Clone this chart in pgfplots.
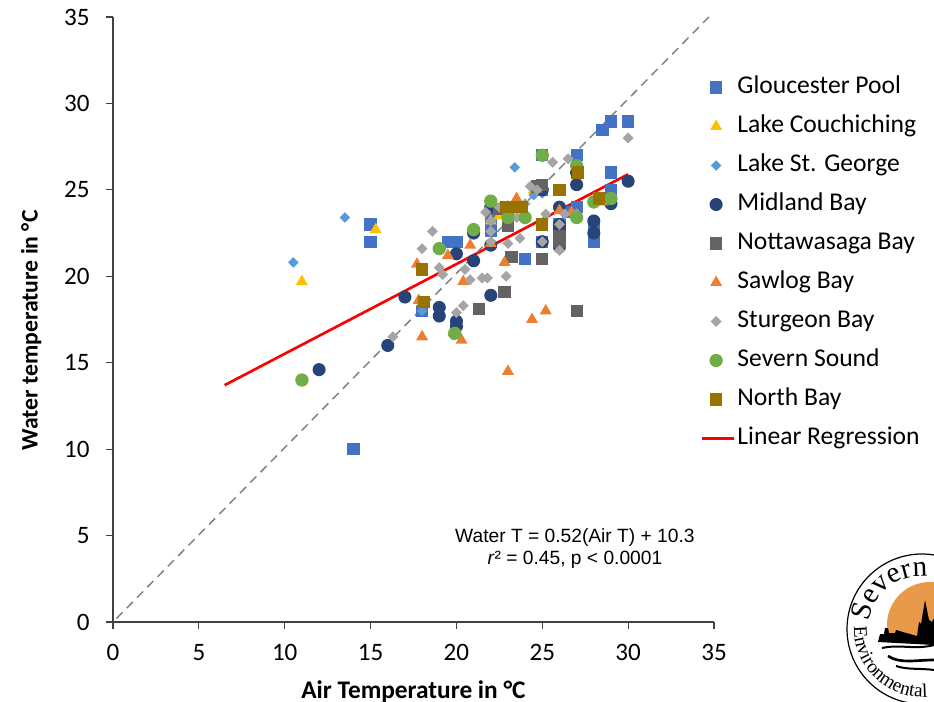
\documentclass[border=0pt]{standalone}
\usepackage{fontspec}
\setmainfont{Carlito}
\newfontfamily\arialf{Liberation Sans}
\newfontfamily\logof{Liberation Serif}
\usepackage{pgfplots}
\pgfplotsset{compat=1.18}
\usetikzlibrary{decorations.text}
\definecolor{cGP}{HTML}{4472C4}
\definecolor{cLC}{HTML}{FFC000}
\definecolor{cSG}{HTML}{5B9BD5}
\definecolor{cMB}{HTML}{264478}
\definecolor{cNB}{HTML}{636363}
\definecolor{cSB}{HTML}{ED7D31}
\definecolor{cST}{HTML}{A5A5A5}
\definecolor{cSS}{HTML}{70AD47}
\definecolor{cNO}{HTML}{997300}
\definecolor{cAxis}{HTML}{404040}
\definecolor{cOr}{HTML}{E9994A}
\pgfplotsset{
 mk/.style={legend image code/.code={\draw[mark repeat=2,mark phase=2,##1] plot coordinates {(0pt,0pt)(10.5pt,0pt)(24pt,0pt)};}},
 ln/.style={legend image code/.code={\draw[##1] (0pt,0pt)--(24pt,0pt);}},
 ser/.style 2 args={only marks,mark=#1,mk,mark options={draw=#2,fill=#2,draw opacity=0,solid}},
 serd/.style={only marks,mark=square*,mk,mark options={draw=#1,fill=#1,draw opacity=0,solid,rotate=45}},
}
\begin{document}
\begin{tikzpicture}
\clip (0,0) rectangle (700.5pt,525.75pt);
\begin{axis}[
 at={(84.75pt,59.25pt)},anchor=south west,
 scale only axis,width=450.75pt,height=453.75pt,
 xmin=0,xmax=35,ymin=0,ymax=35,
 xtick={0,5,...,35},ytick={0,5,...,35},
 axis x line=bottom,axis y line=left,
 axis line style={-,cAxis,line width=0.9pt},
 tick style={cAxis,line width=0.9pt},
 major tick length=5pt,
 tick align=outside,
 clip=false,
 ticklabel style={font=\fontsize{18.8}{20}\selectfont,black},
 x tick label style={yshift=-8.5pt},
 y tick label style={xshift=-9pt},
 /pgf/number format/assume math mode=true,
 xlabel={\textbf{Air Temperature in °C}},
 ylabel={\textbf{Water temperature in °C}},
 xlabel style={font=\fontsize{19}{20}\selectfont,at={(axis description cs:0.5,0)},anchor=base,yshift=-57pt,inner sep=0pt},
 ylabel style={font=\fontsize{17.8}{20}\selectfont,at={(axis description cs:0,0.482)},anchor=base,yshift=56.5pt,inner sep=0pt},
 legend cell align=left,
 legend style={at={(0.978,0.9)},anchor=north west,draw=none,fill=none,
   font=\fontsize{19.2}{20}\selectfont,
   nodes={inner sep=0pt,text height=12pt,text depth=3pt},row sep=14.25pt,
   inner sep=0pt,outer sep=0pt,
   /tikz/every odd column/.append style={column sep=1.5pt}},
]
\addplot[ser={square*}{cGP},mark size=4.6pt] coordinates {
(14,10)(15,22)(15,23)(19.5,22)(20,22)(18,18)(22,23)(22,22.6)(22,23.6)(23,23.9)(24,21)(25,25)(25,27)(26,22.5)(26,22)(26.5,23.7)(27,24)(27,27)(27,26)(28,22)(28.5,28.45)(29,28.95)(29,26)(29,25)(30,28.95)(26,23)(25,22)(22.5,23.8)(23,23)(28,23)};
\addlegendentry{Gloucester Pool}
\addplot[ser={triangle*}{cLC},mark size=5.2pt] coordinates {
(11,19.7)(15.3,22.7)(22,23.2)(23.5,24)(24.5,25)(23.7,23.5)(18,18.5)(22.5,23.5)};
\addlegendentry{Lake Couchiching}
\addplot[serd=cSG,mark size=2.8pt] coordinates {
(10.5,20.8)(13.5,23.4)(23.4,26.3)(24.5,24.7)(22,23.2)(25,25)(23,23.5)(26,23)(18,18)(25,24.8)};
\addlegendentry{Lake St. George}
\addplot[ser={*}{cMB},mark size=4.9pt] coordinates {
(12,14.6)(16,16)(17,18.8)(19,18.2)(19,17.7)(20,17.4)(20,17.1)(20,21.3)(21,20.9)(21,22.5)(22,21.8)(22,18.9)(25,22)(26,21.7)(26,22.2)(26,22.7)(26,23)(26,24)(27,25.3)(28,23.2)(28,22.5)(29,24.2)(30,25.5)(22,24)(25,25)(27,26)};
\addlegendentry{Midland Bay}
\addplot[ser={square*}{cNB},mark size=4.6pt] coordinates {
(21.3,18.1)(22.8,19.1)(27,18)(23.2,21.1)(25,21)(23,22.9)(22.5,23.9)(25,25.3)(24.7,25.2)(26,22.3)(26,22)(23,23.6)};
\addlegendentry{Nottawasaga Bay}
\addplot[ser={triangle*}{cSB},mark size=5.2pt] coordinates {
(18,16.5)(20.3,16.3)(17.7,20.7)(17.8,18.6)(20.4,19.7)(22.8,20.8)(19.5,21.2)(20.8,21.8)(23,14.5)(24.4,17.5)(25.2,18)(23.5,24.5)(23,24)(26,23.8)(26.7,23.7)(28.5,24.3)(22,21.9)};
\addlegendentry{Sawlog Bay}
\addplot[serd=cST,mark size=2.9pt] coordinates {
(16.3,16.5)(18,21.6)(18.6,22.6)(19,20.5)(19.2,20.1)(20,17.9)(19.8,16.6)(20.4,18.3)(20.5,20.4)(20.8,19.8)(21.5,19.9)(21.8,19.9)(22.9,20)(23,21.9)(22,22)(22,22.6)(21.7,23.7)(22,23.2)(25,22)(25.2,23.6)(26,23)(26.3,23.6)(27,23.6)(28,24.4)(25.6,26.6)(26.5,26.8)(30,28)(24.3,25.2)(24.7,25)(23.5,23.4)(22.5,24)(24,24.2)(23.7,22.2)(26,21.5)(27,26.2)};
\addlegendentry{Sturgeon Bay}
\addplot[ser={*}{cSS},mark size=5pt] coordinates {
(11,14)(19.9,16.7)(19,21.6)(21,22.7)(22,24.35)(25,27)(27,26.4)(28,24.3)(29,24.5)(27,23.4)(24,23.4)(23,23.4)};
\addlegendentry{Severn Sound}
\addplot[ser={square*}{cNO},mark size=4.6pt] coordinates {
(18,20.4)(18.1,18.5)(27.1,26)(26,25)(28.3,24.5)(25,23)(22.9,24)(23.3,24)(23.8,24)};
\addlegendentry{North Bay}
\addplot[red,line width=2pt,no marks,ln] coordinates {(6.5,13.7)(30,25.9)};
\addlegendentry{Linear Regression}
\addplot[forget plot,gray,line width=1.1pt,dash pattern=on 6.5pt off 4.5pt,no marks] coordinates {(0.2,0.2)(34.7,35)};
\node[font=\arialf\fontsize{14.4}{17}\selectfont,align=center,anchor=center] at (axis cs:26.9,4.25) {Water T = 0.52(Air T) + 10.3\\[0pt]\textit{r}² = 0.45, p {<} 0.0001};
\end{axis}
% logo (decorative)
\begin{scope}[x=0.75pt,y=-0.75pt,yshift=525.75pt]
\fill[cOr] (930,625) circle (43);
\fill[white] (880,638) rectangle (934,701);
\draw[black,line width=0.9pt] (922,629) circle (75);
\fill[black] (878,642)--(880,634)--(884,634)--(885,628)--(888,628)--(889,633)--(895,633)--(896,630)--(903,632)--(910,634)--(917,636)--(919,622)--(921,624)--(925,600)--(929,620)--(932,622)--(934,618)--(934,645)--cycle;
\draw[black,line width=1.5pt] (882,648) .. controls (900,644) and (915,650) .. (934,645);
\draw[black,line width=2pt] (888,656) .. controls (900,664) and (915,660) .. (934,660);
\draw[black,line width=1.5pt] (896,666) .. controls (908,670) and (920,668) .. (934,670);
\path[postaction={decorate,decoration={text along path,text align=left,
  text={|\logof\fontsize{22}{24}\selectfont|Severn S}}}]
  (922,629) ++(-172:53) arc[start angle=-172,end angle=-60,radius=53];
\path[postaction={decorate,decoration={text along path,text align=left,
  text={|\logof\fontsize{14.5}{16}\selectfont|Environmental}}}]
  (922,629) ++(-178:68) arc[start angle=-178,end angle=-290,radius=68];
\end{scope}
\end{tikzpicture}
\end{document}
